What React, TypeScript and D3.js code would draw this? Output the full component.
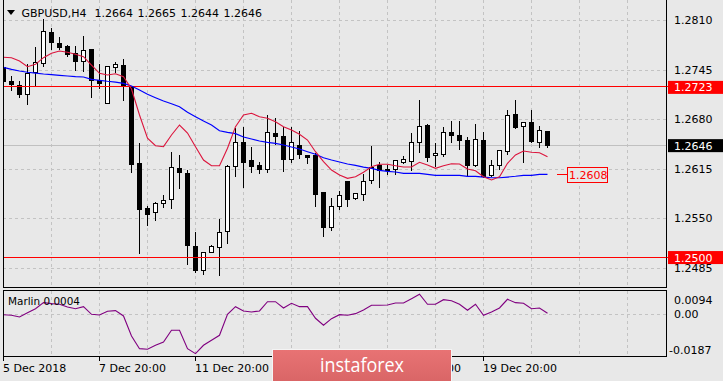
import React from "react";
import * as d3 from "d3";

const openP = [1.27488,1.27301,1.27248,1.27126,1.27415,1.27533,1.27939,1.27795,1.27759,1.27664,
1.27567,1.2772,1.2731,1.27016,1.27488,1.2751,1.27239,1.26222,1.2564,1.2558,
1.25706,1.2575,1.26164,1.26091,1.25138,1.24824,1.25063,1.25121,1.25339,1.2619,
1.26497,1.26261,1.262,1.26143,1.26619,1.2658,1.26274,1.26462,1.26331,1.26331,
1.25846,1.25383,1.25666,1.2599,1.25763,1.25816,1.25999,1.262,1.26147,1.26143,
1.26243,1.26256,1.26497,1.26724,1.26327,1.2634,1.26632,1.26593,1.26527,1.26196,
1.26527,1.26065,1.26196,1.26379,1.26868,1.26711,1.26759,1.26505,1.2664];
const highP = [1.2751,1.27379,1.2731,1.27533,1.27759,1.2812,1.28008,1.2789,1.27785,1.27772,
1.27903,1.27729,1.27533,1.2751,1.27563,1.27606,1.27239,1.26505,1.25675,1.25728,
1.2582,1.26383,1.2634,1.26147,1.25335,1.25073,1.2516,1.25501,1.26209,1.26702,
1.26711,1.26449,1.26252,1.26868,1.26833,1.26711,1.26711,1.26658,1.2634,1.26374,
1.25846,1.2578,1.25876,1.2599,1.2585,1.26091,1.26462,1.26252,1.26209,1.26278,
1.26331,1.26636,1.27065,1.26754,1.26505,1.26711,1.26789,1.26789,1.2658,1.26754,
1.26645,1.26278,1.26392,1.2693,1.27065,1.26763,1.2693,1.26724,1.2665];
const lowP = [1.27248,1.27183,1.27095,1.26995,1.27239,1.27501,1.2772,1.27716,1.27632,1.27445,
1.27432,1.27095,1.27205,1.27008,1.27422,1.27052,1.26104,1.2505,1.25413,1.25483,
1.25653,1.25632,1.25894,1.24898,1.24793,1.24767,1.25055,1.24758,1.25181,1.26059,
1.25915,1.26104,1.26091,1.26112,1.26471,1.26125,1.26243,1.26295,1.26222,1.25666,
1.25273,1.25352,1.25627,1.25666,1.25754,1.25741,1.2596,1.25915,1.26078,1.26082,
1.26222,1.26134,1.26366,1.26256,1.26187,1.26322,1.26505,1.26409,1.26055,1.2619,
1.26046,1.26059,1.26147,1.2634,1.26681,1.26243,1.26505,1.2644,1.2644];
const closeP = [1.27304,1.27257,1.27134,1.27401,1.27546,1.27956,1.27808,1.2775,1.2765,1.27567,
1.27707,1.27314,1.27278,1.27497,1.27519,1.27248,1.26209,1.25619,1.25561,1.25698,
1.25741,1.2617,1.26104,1.25151,1.24824,1.25055,1.25138,1.25325,1.2619,1.26497,
1.26243,1.2619,1.26151,1.26628,1.26584,1.26282,1.26501,1.2634,1.26308,1.25824,
1.25391,1.25658,1.25803,1.25758,1.25829,1.2599,1.26177,1.26134,1.2613,1.26265,
1.26278,1.26497,1.26711,1.26308,1.26357,1.26628,1.26597,1.26531,1.26204,1.26536,
1.26059,1.26196,1.26392,1.26855,1.26702,1.26763,1.26518,1.26654,1.2646];
const maFast = [1.27611,1.27606,1.27563,1.27488,1.27519,1.27606,1.27664,1.27694,1.27677,1.2765,
1.27619,1.2751,1.27401,1.27379,1.27396,1.27357,1.27196,1.26855,1.2655,1.26453,
1.2644,1.26593,1.26724,1.26619,1.2644,1.26265,1.2619,1.2619,1.26419,1.26702,
1.26855,1.26877,1.26833,1.26812,1.26767,1.26702,1.26658,1.26602,1.26527,1.26374,
1.26243,1.26134,1.26069,1.26025,1.26046,1.26104,1.26177,1.26209,1.26209,1.2619,
1.26173,1.26173,1.26235,1.262,1.26156,1.2619,1.26217,1.26213,1.26147,1.26125,
1.26046,1.26003,1.26046,1.26222,1.26331,1.26383,1.26366,1.26361,1.26308];
const maSlow = [1.2748,1.27454,1.27432,1.27415,1.27405,1.27392,1.27383,1.27375,1.27366,1.27357,
1.27353,1.27323,1.2731,1.27297,1.27287,1.2727,1.27235,1.27183,1.27126,1.27082,
1.27038,1.27003,1.26964,1.2689,1.26833,1.26776,1.26724,1.26649,1.26628,1.2661,
1.26567,1.2654,1.26514,1.26497,1.26484,1.26462,1.26436,1.26409,1.26374,1.2634,
1.26295,1.26265,1.26239,1.26213,1.26196,1.26173,1.26156,1.2613,1.26117,1.26108,
1.26091,1.26091,1.26091,1.26078,1.26065,1.26065,1.26065,1.26065,1.26052,1.26052,
1.26042,1.26033,1.26033,1.26042,1.26052,1.26065,1.26065,1.26078,1.26078];
const marlin = [-0.00024,-0.00052,-0.00132,0.00071,0.0026,0.00544,0.00497,0.00468,0.00341,0.0026,
0.00355,-0.00005,-0.00038,0.00137,0.00166,-0.00085,-0.01031,-0.01632,-0.0166,-0.01471,
-0.01315,-0.00762,-0.00762,-0.01632,-0.01868,-0.01471,-0.01235,-0.00998,-0.00005,0.00355,
0.00151,0.00104,0.00151,0.00591,0.00591,0.00293,0.00516,0.00355,0.00355,-0.00194,
-0.00525,-0.00213,-0.00024,-0.00052,0.00024,0.00199,0.00421,0.00421,0.00435,0.0053,
0.0053,0.00733,0.00941,0.00468,0.00468,0.00686,0.00639,0.00468,0.00184,0.00468,
-0.00052,0.00104,0.00293,0.00705,0.00544,0.00516,0.0026,0.00293,0.0004];

const priceTicks = [1.281, 1.2745, 1.268, 1.2615, 1.255, 1.2485];
const levelLines = [1.2723, 1.25];
const bidPrice = 1.2646;
const maLastLabel = 1.2608;
const timeLabels = [
  { i: 0, t: "5 Dec 2018" },
  { i: 12, t: "7 Dec 20:00" },
  { i: 24, t: "11 Dec 20:00" },
  { i: 36, t: "13 Dec 20:00" },
  { i: 48, t: "17 Dec 20:00" },
  { i: 60, t: "19 Dec 20:00" },
];
const headerSymbol = "GBPUSD,H4";
const headerValues = ["1.2664", "1.2665", "1.2644", "1.2646"];
const marlinTicks = [
  { v: 0.0094, t: "0.0094" },
  { v: 0, t: "0.00" },
  { v: -0.0187, t: "-0.0187" },
];

const BG = "#e8e8e8";
const GRID = "#c3c3c3";
const FONT = "'DejaVu Sans', Tahoma, sans-serif";
const L = 3, R = 666.5;
const MAIN_BOTTOM = 287.5;
const IND_TOP = 290.5, IND_BOTTOM = 356.5;

export default function App() {
  const n = openP.length;
  const x = d3.scaleLinear().domain([0, n - 1]).range([3.5, 3.5 + 8 * (n - 1)]);
  const y = d3.scaleLinear().domain([1.2485, 1.281]).range([268, 20]);
  const yi = d3.scaleLinear().domain([-0.0187, 0.0094]).range([353.7, 294.3]);
  const snap = (v: number) => Math.round(v) + 0.5;

  const lineP = d3.line<number>().x((_, i) => x(i)).y((d) => y(d));
  const lineI = d3.line<number>().x((_, i) => x(i)).y((d) => yi(d));

  const vGrid: number[] = [];
  for (let i = 6; x(i) < R; i += 6) vGrid.push(x(i));

  const fmt = d3.format(".4f");

  return (
    <svg width={723} height={381} style={{ position: "absolute", left: 0, top: 0, display: "block" }}
      fontFamily={FONT}>
      <defs>
        <clipPath id="mainClip"><rect x={L} y={0} width={R - L} height={MAIN_BOTTOM} /></clipPath>
        <clipPath id="indClip"><rect x={L} y={IND_TOP} width={R - L} height={IND_BOTTOM - IND_TOP} /></clipPath>
        <linearGradient id="wm" x1="0" y1="0" x2="0" y2="1">
          <stop offset="0" stopColor="#e87374" />
          <stop offset="1" stopColor="#d96566" />
        </linearGradient>
      </defs>
      <rect x={0} y={0} width={723} height={381} fill={BG} />

      {/* main grid */}
      <g clipPath="url(#mainClip)" shapeRendering="crispEdges">
        {vGrid.map((gx, i) => (
          <line key={"vg" + i} x1={gx} x2={gx} y1={0} y2={MAIN_BOTTOM} stroke={GRID} strokeDasharray="3,3" />
        ))}
        {priceTicks.map((p, i) => (
          <line key={"hg" + i} x1={L} x2={R} y1={snap(y(p))} y2={snap(y(p))} stroke={GRID} strokeDasharray="3,3" />
        ))}
        <line x1={L} x2={R} y1={snap(y(bidPrice))} y2={snap(y(bidPrice))} stroke="#c0c0c0" />
      </g>

      {/* candles */}
      <g clipPath="url(#mainClip)" shapeRendering="crispEdges">
        {openP.map((o, i) => {
          const c = closeP[i];
          const cx = x(i);
          const top = snap(y(Math.max(o, c)));
          const bot = snap(y(Math.min(o, c)));
          const bull = c >= o;
          return (
            <g key={"c" + i}>
              <line x1={cx} x2={cx} y1={snap(y(highP[i]))} y2={snap(y(lowP[i]))} stroke="#000" />
              {bot - top < 1 ? (
                <line x1={cx - 2} x2={cx + 3} y1={top} y2={top} stroke="#000" />
              ) : (
                <rect x={cx - 2} y={top} width={4} height={bot - top}
                  fill={bull ? "#fff" : "#000"} stroke="#000" />
              )}
            </g>
          );
        })}
      </g>

      {/* level lines and MAs */}
      <g clipPath="url(#mainClip)">
        {levelLines.map((p, i) => (
          <line key={"lv" + i} x1={L} x2={R} y1={snap(y(p))} y2={snap(y(p))} stroke="#ff0000" shapeRendering="crispEdges" />
        ))}
        <path d={lineP(maSlow) || ""} fill="none" stroke="#0000ff" strokeWidth={1.2} />
        <path d={lineP(maFast) || ""} fill="none" stroke="#dc143c" strokeWidth={1.1} />
      </g>

      {/* 1.2608 annotation */}
      <line x1={557} x2={567} y1={snap(y(maLastLabel))} y2={snap(y(maLastLabel))} stroke="#ff0000" shapeRendering="crispEdges" />
      <rect x={567.5} y={snap(y(maLastLabel)) - 7.5} width={40} height={15} fill={BG} stroke="#ff0000" shapeRendering="crispEdges" />
      <text x={569} y={y(maLastLabel) + 4.5} fontSize={11} fill="#ff0000">{fmt(maLastLabel)}</text>

      {/* header */}
      <path d="M7,10 L15,10 L11,15 Z" fill="#000" />
      <text x={21.5} y={17} fontSize={11} fill="#000">{headerSymbol}</text>
      {headerValues.map((v, i) => (
        <text key={"hv" + i} x={94.5 + i * 43} y={17} fontSize={11} fill="#000">{v}</text>
      ))}

      {/* main frame */}
      <g shapeRendering="crispEdges" stroke="#000" fill="none">
        <line x1={L + 0.5} x2={L + 0.5} y1={0} y2={MAIN_BOTTOM} />
        <line x1={R} x2={R} y1={0} y2={MAIN_BOTTOM} />
        <line x1={L} x2={R} y1={MAIN_BOTTOM} y2={MAIN_BOTTOM} />
      </g>

      {/* right price axis */}
      {priceTicks.map((p, i) => (
        <text key={"pt" + i} x={674} y={y(p) + 4} fontSize={11} fill="#000">{fmt(p)}</text>
      ))}
      {levelLines.map((p, i) => (
        <g key={"ll" + i}>
          <line x1={R} x2={668} y1={snap(y(p))} y2={snap(y(p))} stroke="#ff0000" />
          <rect x={668} y={y(p) - 5.5} width={55} height={13} fill="#ff0000" />
          <text x={674} y={y(p) + 5} fontSize={11} fill="#fff">{fmt(p)}</text>
        </g>
      ))}
      <rect x={668} y={y(bidPrice) - 6} width={55} height={13} fill="#000" />
      <text x={674} y={y(bidPrice) + 4.5} fontSize={11} fill="#fff">{fmt(bidPrice)}</text>

      {/* indicator panel */}
      <g clipPath="url(#indClip)" shapeRendering="crispEdges">
        {vGrid.map((gx, i) => (
          <line key={"ivg" + i} x1={gx} x2={gx} y1={IND_TOP} y2={IND_BOTTOM} stroke={GRID} strokeDasharray="3,3" />
        ))}
        <line x1={L} x2={R} y1={snap(yi(0))} y2={snap(yi(0))} stroke={GRID} strokeDasharray="3,3" />
      </g>
      <g clipPath="url(#indClip)">
        <path d={lineI(marlin) || ""} fill="none" stroke="#800080" strokeWidth={1.1} />
      </g>
      <g shapeRendering="crispEdges" stroke="#000" fill="none">
        <rect x={L + 0.5} y={IND_TOP} width={R - L - 0.5} height={IND_BOTTOM - IND_TOP} />
      </g>
      <text x={8} y={305} fontSize={11} fill="#000" textLength={72} lengthAdjust="spacingAndGlyphs">
        {"Marlin " + marlin[marlin.length - 1].toFixed(4)}
      </text>
      {marlinTicks.map((m, i) => (
        <text key={"mt" + i} x={m.v < 0 ? 669 : 674} y={(m.v === 0.0094 ? 300 : m.v === 0 ? 314 : 349.5) + 4}
          fontSize={11} fill="#000">{m.t}</text>
      ))}

      {/* time axis */}
      {timeLabels.map((tl, i) => (
        <g key={"tl" + i}>
          <line x1={x(tl.i)} x2={x(tl.i)} y1={IND_BOTTOM} y2={IND_BOTTOM + 4} stroke="#000" shapeRendering="crispEdges" />
          <text x={x(tl.i) - 0.5} y={372} fontSize={11} fill="#000">{tl.t}</text>
        </g>
      ))}

      {/* watermark */}
      <rect x={272.5} y={349.5} width={179} height={33} fill="url(#wm)" stroke="#f4f4f4" strokeWidth={1} />
      <text x={362} y={371.5} fontSize={20} fill="#fff" textAnchor="middle" textLength={84}
        lengthAdjust="spacingAndGlyphs" fontFamily="'Open Sans', 'DejaVu Sans', sans-serif">instaforex</text>
    </svg>
  );
}
